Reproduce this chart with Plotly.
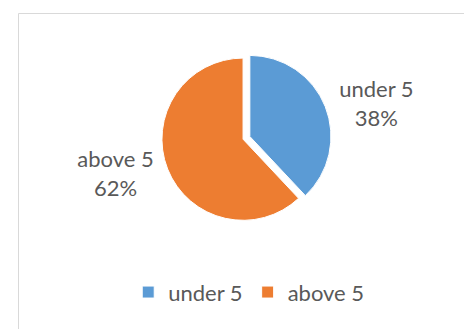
import plotly.graph_objects as go

categories = ["under 5", "above 5"]
values = [38, 62]
colors = ["#5B9BD5", "#ED7D31"]

W, H = 472, 329
FONT = dict(family="Lato", size=22, color="#595959")

fig = go.Figure(go.Pie(
    labels=categories,
    values=values,
    sort=False,
    direction="clockwise",
    rotation=0,
    pull=[0.09, 0],
    marker=dict(colors=colors, line=dict(color="white", width=1)),
    textinfo="label+percent",
    textposition="outside",
    texttemplate="%{label}<br>%{percent:.0%}",
    textfont=FONT,
    hoverinfo="skip",
    domain=dict(x=[0.181, 0.815], y=[0.3325, 0.87]),
))

fig.update_layout(
    width=W, height=H,
    margin=dict(l=0, r=0, t=0, b=0, autoexpand=False),
    paper_bgcolor="white",
    plot_bgcolor="white",
    showlegend=True,
    legend=dict(
        orientation="h",
        x=0.51, xanchor="center",
        y=0.136, yanchor="middle",
        font=FONT,
        itemwidth=30,
    ),
    shapes=[dict(
        type="rect", xref="paper", yref="paper",
        x0=10.5 / W, x1=1.01, y0=-0.01, y1=1 - 5.5 / H,
        line=dict(color="#D9D9D9", width=1),
        fillcolor="rgba(0,0,0,0)",
    )],
)

fig.write_html("out.html")
